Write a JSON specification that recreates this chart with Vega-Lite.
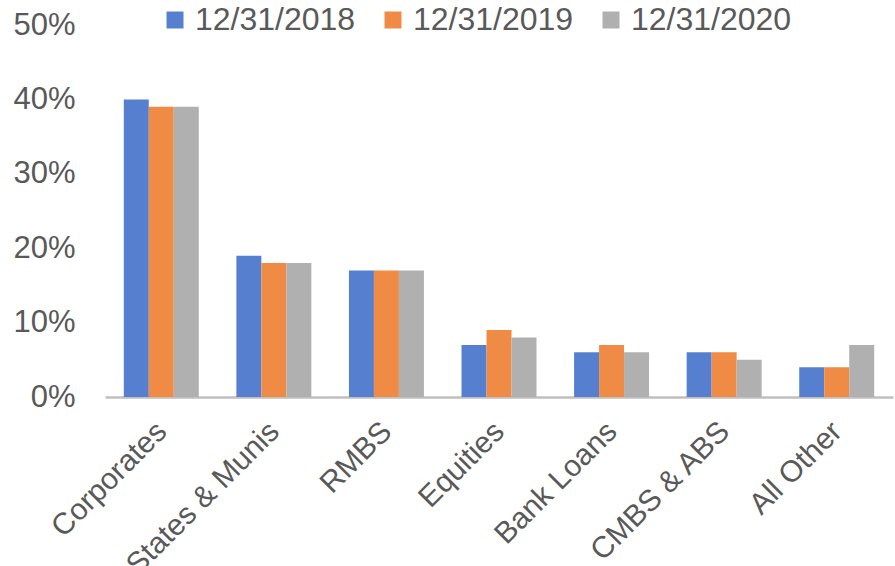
{
  "$schema": "https://vega.github.io/schema/vega-lite/v6.json",
  "width": 788,
  "height": 372,
  "autosize": {"type": "none"},
  "padding": {"left": 105, "top": 25, "right": 2, "bottom": 169},
  "config": {"view": {"stroke": null}, "font": "Liberation Sans"},
  "data": {
    "values": [
      {"category": "Corporates", "date": "12/31/2018", "share": 0.40},
      {"category": "Corporates", "date": "12/31/2019", "share": 0.39},
      {"category": "Corporates", "date": "12/31/2020", "share": 0.39},
      {"category": "States & Munis", "date": "12/31/2018", "share": 0.19},
      {"category": "States & Munis", "date": "12/31/2019", "share": 0.18},
      {"category": "States & Munis", "date": "12/31/2020", "share": 0.18},
      {"category": "RMBS", "date": "12/31/2018", "share": 0.17},
      {"category": "RMBS", "date": "12/31/2019", "share": 0.17},
      {"category": "RMBS", "date": "12/31/2020", "share": 0.17},
      {"category": "Equities", "date": "12/31/2018", "share": 0.07},
      {"category": "Equities", "date": "12/31/2019", "share": 0.09},
      {"category": "Equities", "date": "12/31/2020", "share": 0.08},
      {"category": "Bank Loans", "date": "12/31/2018", "share": 0.06},
      {"category": "Bank Loans", "date": "12/31/2019", "share": 0.07},
      {"category": "Bank Loans", "date": "12/31/2020", "share": 0.06},
      {"category": "CMBS & ABS", "date": "12/31/2018", "share": 0.06},
      {"category": "CMBS & ABS", "date": "12/31/2019", "share": 0.06},
      {"category": "CMBS & ABS", "date": "12/31/2020", "share": 0.05},
      {"category": "All Other", "date": "12/31/2018", "share": 0.04},
      {"category": "All Other", "date": "12/31/2019", "share": 0.04},
      {"category": "All Other", "date": "12/31/2020", "share": 0.07}
    ]
  },
  "mark": {"type": "bar"},
  "encoding": {
    "x": {
      "field": "category",
      "type": "nominal",
      "sort": null,
      "scale": {"paddingInner": 0.334, "paddingOuter": 0.167},
      "axis": {
        "title": null,
        "labelAngle": -45,
        "labelFontSize": 30,
        "labelColor": "#595959",
        "labelLimit": 0,
        "labelOffset": -10,
        "ticks": false,
        "domainColor": "#BFBFBF",
        "domainWidth": 2.5,
        "labelPadding": 19
      }
    },
    "xOffset": {"field": "date", "type": "nominal", "scale": {"paddingInner": 0, "paddingOuter": 0}},
    "y": {
      "field": "share",
      "type": "quantitative",
      "scale": {"domain": [0, 0.5]},
      "axis": {
        "title": null,
        "format": ".0%",
        "values": [0, 0.1, 0.2, 0.3, 0.4, 0.5],
        "grid": false,
        "ticks": false,
        "domain": false,
        "labelFontSize": 31,
        "labelColor": "#595959",
        "labelPadding": 30
      }
    },
    "color": {
      "field": "date",
      "type": "nominal",
      "scale": {"domain": ["12/31/2018", "12/31/2019", "12/31/2020"], "range": ["#5680cf", "#f08b45", "#b0b0b0"]},
      "legend": {
        "title": null,
        "orient": "none",
        "legendX": 54,
        "legendY": -21,
        "direction": "horizontal",
        "symbolType": "square",
        "symbolSize": 289,
        "labelFontSize": 32,
        "labelColor": "#595959",
        "labelOffset": 4,
        "labelLimit": 0,
        "columnPadding": 21
      }
    }
  }
}
